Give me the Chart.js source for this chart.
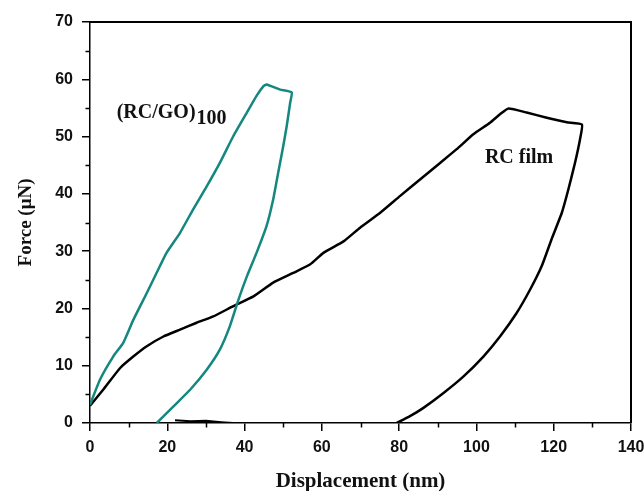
<!DOCTYPE html>
<html>
<head>
<meta charset="utf-8">
<script src="https://cdn.jsdelivr.net/npm/chart.js@4/dist/chart.umd.min.js"></script>
<style>
  html, body { margin: 0; padding: 0; background: #fff; }
  canvas { display: block; }
</style>
</head>
<body>
<canvas id="c" width="644" height="491"></canvas>
<script>
// ---- Data ----
// (RC/GO)100 loading + unloading curve
const rcgoDisp  = [0, 2.6, 6.0, 8.6, 11.2, 14.7, 18.1, 19.8, 23.3, 26.7, 30.2, 33.6, 37.1, 40.6, 43.1, 44.9, 45.7, 49.2, 52.2,
                   51.8, 50.9, 50.0, 48.7, 47.4, 45.7, 43.1, 40.6, 38.4, 36.2, 33.6, 30.2, 25.9, 21.6, 17.3];
const rcgoForce = [3.2, 7.6, 11.6, 14.0, 18.0, 22.7, 27.4, 29.7, 33.2, 37.3, 41.3, 45.4, 50.1, 54.2, 57.1, 58.8, 59.1, 58.2, 57.7,
                   55.9, 51.8, 48.3, 43.7, 39.0, 34.4, 29.7, 25.6, 21.5, 16.9, 12.8, 9.3, 5.8, 2.9, 0];
// RC film loading + unloading curve
const rcDisp  = [0, 3.4, 7.8, 11.2, 14.7, 19.0, 23.3, 27.6, 31.9, 37.1, 42.3, 47.4, 52.6, 57.0, 60.4, 65.6, 69.9, 75.1, 80.2,
                 85.4, 90.6, 94.9, 99.2, 103.5, 106.1, 108.3, 113.0, 118.2, 123.4, 127.3,
                 126.8, 125.5, 123.8, 122.1, 119.4, 116.9, 113.9, 110.4, 106.1, 101.8, 96.6, 91.4, 86.2, 82.8, 79.3];
const rcForce = [3.0, 5.8, 9.6, 11.6, 13.4, 15.1, 16.3, 17.5, 18.6, 20.4, 22.1, 24.5, 26.2, 27.7, 29.7, 31.7, 34.1, 36.7, 39.6,
                 42.5, 45.4, 47.8, 50.4, 52.4, 53.9, 54.9, 54.2, 53.3, 52.5, 52.1,
                 49.5, 45.4, 40.8, 36.7, 32.0, 27.4, 23.3, 19.2, 15.1, 11.6, 8.1, 5.2, 2.6, 1.2, 0];
// small black trace near zero force
const tailDisp  = [22, 26, 30, 34, 37];
const tailForce = [0.5, 0.3, 0.4, 0.15, 0];

// axes
const xMajorTicks = [0, 20, 40, 60, 80, 100, 120, 140];
const xMinorTicks = [10, 30, 50, 70, 90, 110, 130];
const yMajorTicks = [0, 10, 20, 30, 40, 50, 60, 70];
const yMinorTicks = [5, 15, 25, 35, 45, 55, 65];
const xTitle = 'Displacement (nm)';
const yTitle = 'Force (\u03BCN)';

// in-plot labels: [text, subscript, x, y]
const plotLabels = [
  ['(RC/GO)', '100', 6.9, 53.2],
  ['RC film', '', 102.2, 45.3]
];

const TEAL = '#14877f';
const toPts = (xs, ys) => xs.map((x, i) => ({x: x, y: ys[i]}));

const minorAndFrame = {
  id: 'minorAndFrame',
  afterDraw(chart) {
    const {ctx, chartArea: a, scales: {x, y}} = chart;
    ctx.save();
    ctx.strokeStyle = '#000';
    ctx.lineWidth = 1.5;
    ctx.beginPath();
    xMinorTicks.forEach(v => {
      const px = Math.round(x.getPixelForValue(v)) + 0.5;
      ctx.moveTo(px, a.bottom); ctx.lineTo(px, a.bottom + 4.5);
    });
    yMinorTicks.forEach(v => {
      const py = Math.round(y.getPixelForValue(v)) + 0.5;
      ctx.moveTo(a.left, py); ctx.lineTo(a.left - 4.5, py);
    });
    ctx.stroke();
    // top and right frame
    ctx.lineWidth = 2;
    ctx.beginPath();
    ctx.moveTo(a.left, a.top); ctx.lineTo(a.right, a.top); ctx.lineTo(a.right, a.bottom);
    ctx.stroke();
    // labels
    ctx.fillStyle = '#111';
    ctx.textBaseline = 'alphabetic';
    ctx.textAlign = 'left';
    plotLabels.forEach(([t, sub, dx, dy]) => {
      const px = x.getPixelForValue(dx), py = y.getPixelForValue(dy);
      ctx.font = 'bold 20px "Liberation Serif", "Times New Roman", serif';
      ctx.fillText(t, px, py);
      if (sub) {
        const w = ctx.measureText(t).width;
        ctx.fillText(sub, px + w + 1, py + 6);
      }
    });
    ctx.restore();
  }
};

new Chart(document.getElementById('c'), {
  type: 'scatter',
  data: {
    datasets: [
      { label: '(RC/GO)100', data: toPts(rcgoDisp, rcgoForce), showLine: true, borderColor: TEAL,
        borderWidth: 2.5, pointRadius: 0, tension: 0.15, fill: false },
      { label: 'RC film', data: toPts(rcDisp, rcForce), showLine: true, borderColor: '#000',
        borderWidth: 2.5, pointRadius: 0, tension: 0.15, fill: false },
      { label: 'RC film tail', data: toPts(tailDisp, tailForce), showLine: true, borderColor: '#000',
        borderWidth: 2, pointRadius: 0, tension: 0, fill: false }
    ]
  },
  options: {
    responsive: false,
    animation: false,
    devicePixelRatio: 1,
    layout: { padding: { left: 0, right: 0, top: 22, bottom: 0 } },
    plugins: { legend: { display: false }, tooltip: { enabled: false } },
    scales: {
      x: {
        type: 'linear', min: 0, max: 140,
        afterBuildTicks: s => { s.ticks = xMajorTicks.map(v => ({value: v})); },
        afterFit: s => { s.height = 68; s.paddingRight = 13; s.paddingLeft = 0; },
        grid: { drawOnChartArea: false, drawTicks: true, tickLength: 8, color: '#000', lineWidth: 1.5 },
        border: { display: true, color: '#000', width: 1.5 },
        ticks: { color: '#111', padding: 7, maxRotation: 0,
                 font: { family: '"Liberation Sans", Arial, sans-serif', size: 16, weight: 'bold' } },
        title: { display: true, text: xTitle, color: '#111', padding: { top: 0, bottom: 0 },
                 font: { family: '"Liberation Serif", "Times New Roman", serif', size: 21, weight: 'bold', lineHeight: 0.85 } }
      },
      y: {
        type: 'linear', min: 0, max: 70,
        afterBuildTicks: s => { s.ticks = yMajorTicks.map(v => ({value: v})); },
        afterFit: s => { s.width = 90; s.paddingTop = 0; s.paddingBottom = 0; },
        grid: { drawOnChartArea: false, drawTicks: true, tickLength: 8, color: '#000', lineWidth: 1.5 },
        border: { display: true, color: '#000', width: 1.5 },
        ticks: { color: '#111', padding: 9,
                 font: { family: '"Liberation Sans", Arial, sans-serif', size: 16, weight: 'bold' } },
        title: { display: true, text: yTitle, color: '#111', padding: { top: 14.6, bottom: 0 },
                 font: { family: '"Liberation Serif", "Times New Roman", serif', size: 19, weight: 'bold', lineHeight: 1.2 } }
      }
    }
  },
  plugins: [minorAndFrame]
});
</script>
</body>
</html>
